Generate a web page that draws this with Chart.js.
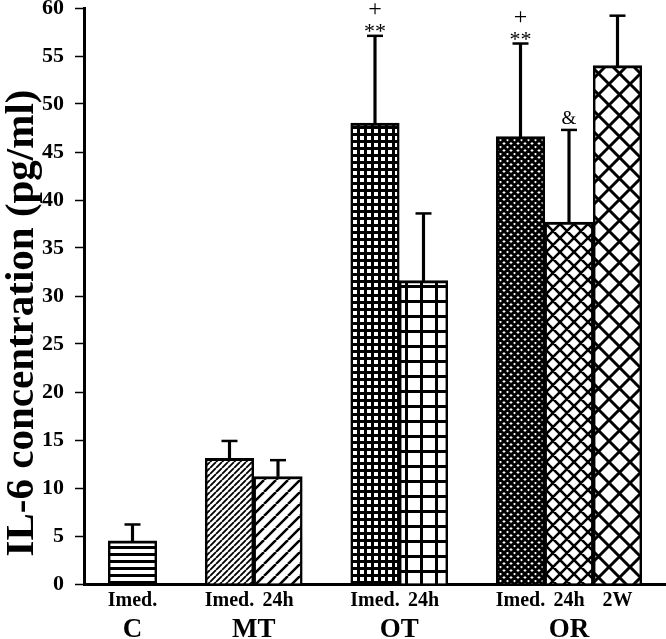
<!DOCTYPE html>
<html>
<head>
<meta charset="utf-8">
<script src="https://cdn.jsdelivr.net/npm/chart.js@4.4.0/dist/chart.umd.min.js"></script>
<style>
  html, body { margin: 0; padding: 0; background: #fff; }
</style>
</head>
<body>
<canvas id="il6Chart" width="666" height="639"></canvas>
<script>
// --- data ---
const barPos = [0, 2, 3, 5, 6, 8, 9, 10];            // slot of each bar (gaps between groups)
const barLabels = ['Imed.', 'Imed.', '24h', 'Imed.', '24h', 'Imed.', '24h', '2W'];
const means = [4.5, 13.1, 11.2, 48.0, 31.6, 46.6, 37.7, 54.0];
const errors = [1.7, 1.8, 1.7, 9.1, 7.0, 9.7, 9.6, 5.2];
const groupPos = [0, 2.5, 5.5, 9];
const groupLabels = ['C', 'MT', 'OT', 'OR'];
const marks = [null, null, null, ['+', '**'], null, ['+', '**'], ['&'], null];
const fills = ['hlines', 'diagDense', 'diagSparse', 'gridDense', 'gridSparse', 'crossDense', 'crossMid', 'crossWide'];

const SERIF = '"Liberation Serif", "Times New Roman", serif';

// hatch patterns used for the bar fills
function makePattern(kind) {
  const specs = {
    hlines: { s: 7, w: 3 },
    diagDense: { s: 6, w: 1.8 },
    diagSparse: { s: 12, w: 2.5 },
    gridDense: { s: 7, w: 3 },
    gridSparse: { s: 15, w: 3 },
    crossDense: { s: 7, w: 3 },
    crossMid: { s: 14, w: 2.6 },
    crossWide: { s: 21, w: 3 }
  };
  const { s, w } = specs[kind];
  const c = document.createElement('canvas');
  c.width = s; c.height = s;
  const g = c.getContext('2d');
  g.fillStyle = '#fff';
  g.fillRect(0, 0, s, s);
  g.fillStyle = '#000';
  g.strokeStyle = '#000';
  g.lineWidth = w;
  if (kind === 'hlines') {
    g.fillRect(0, 0, s, w);
  } else if (kind.startsWith('grid')) {
    g.fillRect(0, 0, s, w);
    g.fillRect(0, 0, w, s);
  } else {
    g.beginPath();
    for (let k = -1; k <= 1; k++) {
      g.moveTo(k * s, s); g.lineTo(k * s + s, 0);
      if (kind.startsWith('cross')) { g.moveTo(k * s, 0); g.lineTo(k * s + s, s); }
    }
    g.stroke();
  }
  return g.createPattern(c, 'repeat');
}

const ctx0 = document.getElementById('il6Chart').getContext('2d');
const patterns = fills.map(makePattern);

// white page + rotated y title
const bgPlugin = {
  id: 'bg',
  beforeDraw(chart) {
    const { ctx } = chart;
    ctx.save();
    ctx.fillStyle = '#fff';
    ctx.fillRect(0, 0, chart.width, chart.height);
    ctx.restore();
  },
  afterDraw(chart) {
    const { ctx } = chart;
    ctx.save();
    ctx.translate(22, 323);
    ctx.rotate(-Math.PI / 2);
    ctx.font = 'bold 41px ' + SERIF;
    ctx.fillStyle = '#000';
    ctx.textAlign = 'center';
    ctx.textBaseline = 'middle';
    ctx.fillText('IL-6 concentration (pg/ml)', 0, 0);
    ctx.restore();
  }
};

// significance marks above the error caps
const marksPlugin = {
  id: 'marks',
  afterDatasetsDraw(chart) {
    const { ctx, scales: { x, y } } = chart;
    ctx.save();
    ctx.fillStyle = '#000';
    ctx.textAlign = 'center';
    ctx.textBaseline = 'alphabetic';
    marks.forEach((m, i) => {
      if (!m) return;
      const px = x.getPixelForValue(barPos[i]);
      const py = y.getPixelForValue(means[i] + errors[i]);
      m.forEach(t => {
        if (t === '**') {
          ctx.font = '22px ' + SERIF;
          ctx.fillText('**', px, py + 2);
        } else if (t === '+') {
          ctx.font = '24px ' + SERIF;
          ctx.fillText('+', px, py - 20);
        } else {
          ctx.font = '19px ' + SERIF;
          ctx.fillText(t, px, py - 6);
        }
      });
    });
    ctx.restore();
  }
};

new Chart(ctx0, {
  type: 'bar',
  data: {
    datasets: [
      {
        label: 'IL-6',
        data: barPos.map((x, i) => ({ x, y: means[i] })),
        backgroundColor: patterns,
        borderColor: '#000',
        borderWidth: { top: 3, left: 2.5, right: 2.5, bottom: 0 },
        borderSkipped: false,
        barThickness: 48.5,
        grouped: false,
        order: 1
      },
      {
        label: 'SD',
        data: barPos.map((x, i) => ({ x, y: [means[i], means[i] + errors[i]] })),
        backgroundColor: '#000',
        borderWidth: 0,
        barThickness: 2.5,
        grouped: false,
        order: 2
      },
      {
        type: 'scatter',
        label: 'cap',
        data: barPos.map((x, i) => ({ x, y: means[i] + errors[i] })),
        pointStyle: 'line',
        pointRadius: 8,
        borderWidth: 2.5,
        borderColor: '#000',
        showLine: false,
        order: 0
      }
    ]
  },
  options: {
    responsive: false,
    animation: false,
    layout: { padding: 0, autoPadding: false },
    plugins: { legend: { display: false }, tooltip: { enabled: false } },
    scales: {
      x: {
        type: 'linear',
        offset: false,
        min: -1, max: 11,
        border: { display: true, color: '#000', width: 3 },
        grid: { display: true, offset: false, drawOnChartArea: false, drawTicks: false },
        afterBuildTicks: scale => { scale.ticks = barPos.map(v => ({ value: v })); },
        afterFit: scale => { scale.height = 28; scale.paddingLeft = 0; scale.paddingRight = 0; },
        ticks: {
          autoSkip: false, maxRotation: 0, padding: 5,
          color: '#000',
          font: { family: SERIF, size: 20, weight: 'bold' },
          callback: (v, i) => barLabels[i]
        }
      },
      x2: {
        type: 'linear',
        position: 'bottom',
        offset: false,
        weight: 1,
        min: -1, max: 11,
        border: { display: false },
        grid: { display: false, offset: false },
        afterBuildTicks: scale => { scale.ticks = groupPos.map(v => ({ value: v })); },
        afterFit: scale => { scale.height = 27; scale.paddingLeft = 0; scale.paddingRight = 0; },
        ticks: {
          autoSkip: false, maxRotation: 0, padding: -3,
          color: '#000',
          font: { family: SERIF, size: 27, weight: 'bold', lineHeight: 1 },
          callback: (v, i) => groupLabels[i]
        }
      },
      y: {
        min: 0, max: 60,
        border: { display: true, color: '#000', width: 3 },
        grid: { drawOnChartArea: false, drawTicks: true, tickLength: 9, tickWidth: 1.5, tickColor: '#000' },
        afterFit: scale => { scale.width = 84; scale.paddingTop = 8; scale.paddingBottom = 0; },
        ticks: {
          stepSize: 5, padding: 11,
          color: '#000',
          font: { family: SERIF, size: 22, weight: 'bold' }
        }
      }
    }
  },
  plugins: [bgPlugin, marksPlugin]
});
</script>
</body>
</html>
